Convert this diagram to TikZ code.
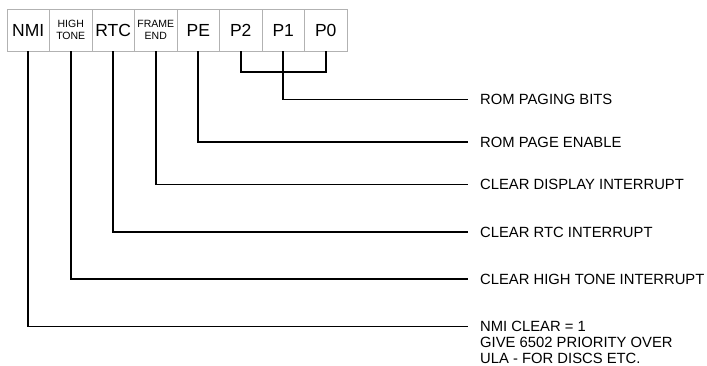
\documentclass[tikz,border=0pt]{standalone}
\usepackage{fontspec}
\setmainfont{Liberation Sans}
\usetikzlibrary{positioning}

\begin{document}
\begin{tikzpicture}[x=1pt,y=-1pt,node distance=0pt,
    cell/.style={draw=gray!60,line width=0.9pt,minimum width=42.5pt,minimum height=42pt,
      inner sep=0pt,outer sep=0pt,font=\fontsize{17.5}{20}\selectfont},
    small/.style={cell,align=center,font=\fontsize{10.5}{11.5}\selectfont},
    desc/.style={anchor=west,inner sep=0pt,font=\fontsize{14.8}{15.8}\selectfont},
    wire/.style={line width=1.7pt,shorten >=12pt}]
  \useasboundingbox (0,0) rectangle (707,365);
  % register bits
  \node[cell] (nmi) at (28.25,30) {NMI};
  \node[small] (tone) [right=of nmi] {HIGH\\TONE};
  \node[cell] (rtc) [right=of tone] {RTC};
  \node[small] (frame) [right=of rtc] {FRAME\\END};
  \node[cell] (pe) [right=of frame] {PE};
  \node[cell] (p2) [right=of pe] {P2};
  \node[cell] (p1) [right=of p2] {P1};
  \node[cell] (p0) [right=of p1] {P0};
  % descriptions
  \node[desc] (bits) at (480,99.5) {ROM PAGING BITS};
  \node[desc] (enable) at (480,142) {ROM PAGE ENABLE};
  \node[desc] (dispclr) at (480,184.5) {CLEAR DISPLAY INTERRUPT};
  \node[desc] (rtcclr) at (480,232) {CLEAR RTC INTERRUPT};
  \node[desc] (toneclr) at (480,279) {CLEAR HIGH TONE INTERRUPT};
  \node[desc,anchor=north west,align=left] (nmiclr) at (480,321.2)
    {NMI CLEAR = 1\\GIVE 6502 PRIORITY OVER\\ULA - FOR DISCS ETC.};
  \coordinate (nmiend) at (480,326.5);
  % wiring
  \draw[wire,shorten >=0pt] (p2.south) -- ++(0,21) -| (p0.south);
  \draw[wire] (p1.south) |- (bits.west);
  \draw[wire] (pe.south) |- (enable.west);
  \draw[wire] (frame.south) |- (dispclr.west);
  \draw[wire] (rtc.south) |- (rtcclr.west);
  \draw[wire] (tone.south) |- (toneclr.west);
  \draw[wire] (nmi.south) |- (nmiend);
\end{tikzpicture}
\end{document}
